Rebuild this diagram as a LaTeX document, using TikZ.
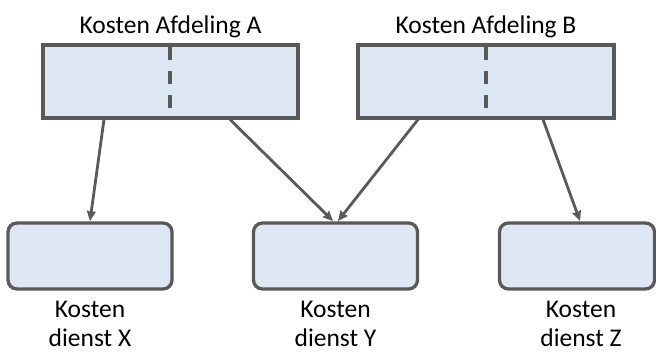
\documentclass[tikz,border=0pt]{standalone}
\usepackage{fontspec}
\setmainfont{Carlito}
\usetikzlibrary{arrows.meta,calc}
\definecolor{boxfill}{HTML}{DDE8F4}
\definecolor{boxline}{HTML}{595959}
\definecolor{txt}{HTML}{000000}
\tikzset{
  deptbox/.style={draw=boxline, fill=boxfill, line width=3.3pt, minimum width=255pt, minimum height=73pt, inner sep=0pt},
  dienstbox/.style={draw=boxline, fill=boxfill, line width=3.3pt, rounded corners=9pt, minimum width=164pt, minimum height=66pt, inner sep=0pt},
  lbl/.style={font=\fontsize{25.5}{29}\selectfont, text=txt, inner sep=0pt, align=center},
  conn/.style={draw=boxline, line width=2.8pt, -{Stealth[length=10pt,width=9pt,inset=1pt]}},
  divider/.style={draw=boxline, line width=3.3pt, dash pattern=on 13pt off 11pt}
}
\begin{document}
\begin{tikzpicture}[x=1pt,y=-1pt]
\useasboundingbox (0,0) rectangle (656,351);
\node[deptbox] (A) at (170.5,81.5) {};
\node[deptbox, minimum width=256pt] (B) at (486,81.5) {};
\node[dienstbox] (X) at (90,256) {};
\node[dienstbox] (Y) at (335.5,256) {};
\node[dienstbox, minimum width=155pt] (Z) at (577,256) {};
\coordinate (Atop) at (170,47);
\coordinate (Abot) at (170,108);
\coordinate (Btop) at (486,47);
\coordinate (Bbot) at (486,108);
\draw[divider] (Atop) -- (Abot);
\draw[divider] (Btop) -- (Bbot);
\node[lbl, anchor=base] (tA) at (170.5,33) {Kosten Afdeling A};
\node[lbl, anchor=base] (tB) at (486,33) {Kosten Afdeling B};
\node[lbl, anchor=base] (lX) at (90,346) {Kosten\\dienst X};
\node[lbl, anchor=base] (lY) at (335.5,346) {Kosten\\dienst Y};
\node[lbl, anchor=base] (lZ) at (581,346) {Kosten\\dienst Z};
\coordinate (a1) at (104,119.5);
\coordinate (a2) at (230,119.5);
\coordinate (b1) at (418,119.5);
\coordinate (b2) at (543,119.5);
\coordinate (x1) at (90,221);
\coordinate (y1) at (333,221);
\coordinate (y2) at (338,221);
\coordinate (z1) at (580,221);
\draw[conn] (a1) -- (x1);
\draw[conn] (a2) -- (y1);
\draw[conn] (b1) -- (y2);
\draw[conn] (b2) -- (z1);
\end{tikzpicture}
\end{document}
